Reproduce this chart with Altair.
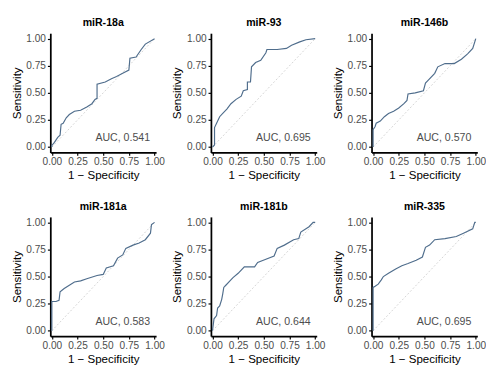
import altair as alt
import pandas as pd

names = ["miR-18a", "miR-93", "miR-146b", "miR-181a", "miR-181b", "miR-335"]
auc_labels = ["AUC, 0.541", "AUC, 0.695", "AUC, 0.570", "AUC, 0.583", "AUC, 0.644", "AUC, 0.695"]

fpr_18a = [0, 0, 0.025, 0.057, 0.08, 0.09, 0.11, 0.14, 0.17, 0.22, 0.28, 0.34, 0.39, 0.42, 0.44, 0.44, 0.52, 0.58, 0.63, 0.69, 0.75, 0.76, 0.82, 0.87, 0.91, 1.0]
tpr_18a = [0, 0.015, 0.044, 0.09, 0.11, 0.21, 0.22, 0.27, 0.30, 0.33, 0.34, 0.37, 0.40, 0.44, 0.45, 0.58, 0.60, 0.63, 0.65, 0.68, 0.71, 0.82, 0.83, 0.90, 0.95, 1.0]

fpr_93 = [0, 0.02, 0.02, 0.04, 0.07, 0.10, 0.14, 0.18, 0.23, 0.28, 0.30, 0.34, 0.34, 0.37, 0.38, 0.42, 0.47, 0.52, 0.53, 0.63, 0.72, 0.77, 0.85, 0.91, 1.0]
tpr_93 = [0, 0.02, 0.18, 0.22, 0.28, 0.31, 0.35, 0.40, 0.44, 0.47, 0.52, 0.53, 0.60, 0.60, 0.74, 0.78, 0.80, 0.87, 0.90, 0.90, 0.91, 0.94, 0.97, 0.99, 1.0]

fpr_146b = [0, 0, 0.02, 0.03, 0.07, 0.11, 0.15, 0.20, 0.25, 0.30, 0.33, 0.34, 0.41, 0.49, 0.51, 0.54, 0.60, 0.63, 0.70, 0.79, 0.86, 0.92, 0.97, 0.99, 1.0]
tpr_146b = [0, 0.16, 0.19, 0.22, 0.24, 0.28, 0.31, 0.33, 0.36, 0.40, 0.43, 0.49, 0.50, 0.52, 0.59, 0.62, 0.68, 0.74, 0.77, 0.77, 0.81, 0.86, 0.91, 0.97, 1.0]

fpr_181a = [0, 0, 0.04, 0.07, 0.08, 0.12, 0.17, 0.22, 0.28, 0.34, 0.44, 0.50, 0.53, 0.60, 0.64, 0.69, 0.72, 0.79, 0.85, 0.91, 0.96, 0.97, 1.0]
tpr_181a = [0, 0.27, 0.27, 0.28, 0.36, 0.39, 0.42, 0.45, 0.46, 0.48, 0.51, 0.52, 0.58, 0.60, 0.67, 0.70, 0.76, 0.79, 0.81, 0.84, 0.90, 0.98, 1.0]

fpr_181b = [0, 0.015, 0.04, 0.05, 0.07, 0.09, 0.10, 0.11, 0.13, 0.17, 0.20, 0.25, 0.31, 0.41, 0.44, 0.52, 0.60, 0.63, 0.70, 0.79, 0.84, 0.86, 0.94, 0.98, 1.0]
tpr_181b = [0, 0.11, 0.14, 0.21, 0.23, 0.29, 0.34, 0.40, 0.42, 0.46, 0.49, 0.53, 0.59, 0.59, 0.63, 0.66, 0.69, 0.76, 0.79, 0.84, 0.85, 0.91, 0.96, 1.0, 1.0]

fpr_335 = [0, 0, 0.02, 0.05, 0.08, 0.10, 0.15, 0.22, 0.28, 0.34, 0.42, 0.48, 0.51, 0.55, 0.60, 0.70, 0.81, 0.88, 0.97, 0.99, 1.0]
tpr_335 = [0, 0.40, 0.41, 0.43, 0.47, 0.50, 0.53, 0.57, 0.60, 0.62, 0.65, 0.68, 0.77, 0.79, 0.84, 0.85, 0.87, 0.90, 0.94, 1.0, 1.0]

curves = [(fpr_18a, tpr_18a), (fpr_93, tpr_93), (fpr_146b, tpr_146b),
          (fpr_181a, tpr_181a), (fpr_181b, tpr_181b), (fpr_335, tpr_335)]

ticks = [0, 0.25, 0.5, 0.75, 1.0]
FONT = "Liberation Sans"
W, H = 110, 124


def panel(name, auc, fpr, tpr):
    df = pd.DataFrame({"fpr": fpr, "tpr": tpr, "i": list(range(len(fpr)))})
    diag = pd.DataFrame({"fpr": [0, 1], "tpr": [0, 1], "i": [0, 1]})
    lab = pd.DataFrame({"fpr": [0.69], "tpr": [0.08], "t": [auc]})
    xs = alt.Scale(domain=[-0.015, 1.015], nice=False, zero=False)
    ys = alt.Scale(domain=[-0.05, 1.05], nice=False, zero=False)
    xe = alt.X("fpr:Q", scale=xs, title="1 \u2212 Specificity",
               axis=alt.Axis(values=ticks, format=".2f"))
    ye = alt.Y("tpr:Q", scale=ys, title="Sensitivity",
               axis=alt.Axis(values=ticks, format=".2f"))
    d = alt.Chart(diag).mark_line(color="#c8c8c8", strokeDash=[2, 2], strokeWidth=0.8).encode(
        x=xe, y=ye, order="i:Q")
    c = alt.Chart(df).mark_line(color="#4f6d8c", strokeWidth=1.2, interpolate="linear").encode(
        x=xe, y=ye, order="i:Q")
    t = alt.Chart(lab).mark_text(font=FONT, fontSize=11, color="#4d4d4d",
                                 align="center", baseline="middle").encode(
        x=xe, y=ye, text="t:N")
    return alt.layer(d, c, t).properties(width=W, height=H, title=name)


panels = [panel(n, a, f, s) for n, a, (f, s) in zip(names, auc_labels, curves)]

chart = alt.concat(*panels, columns=3, spacing={"row": 67, "column": 57},
                   bounds="flush").properties(
    padding={"left": 2, "top": 3, "right": 0, "bottom": 0}
).configure_view(stroke=None).configure_axis(
    grid=False, domainColor="black", domainWidth=1.8, tickColor="black",
    tickSize=3, tickWidth=1.2, labelColor="#4d4d4d", labelFont=FONT,
    labelFontSize=10.5, labelPadding=2, labelOverlap=False, labelFlush=False,
    titleFont=FONT, titleFontSize=12,
    titleFontWeight="normal", titleColor="black", titlePadding=3
).configure_title(font=FONT, fontSize=11, fontWeight="bold", anchor="middle",
                  offset=5, color="black")

chart.save("out.html", embed_options={"renderer": "svg", "actions": False})
